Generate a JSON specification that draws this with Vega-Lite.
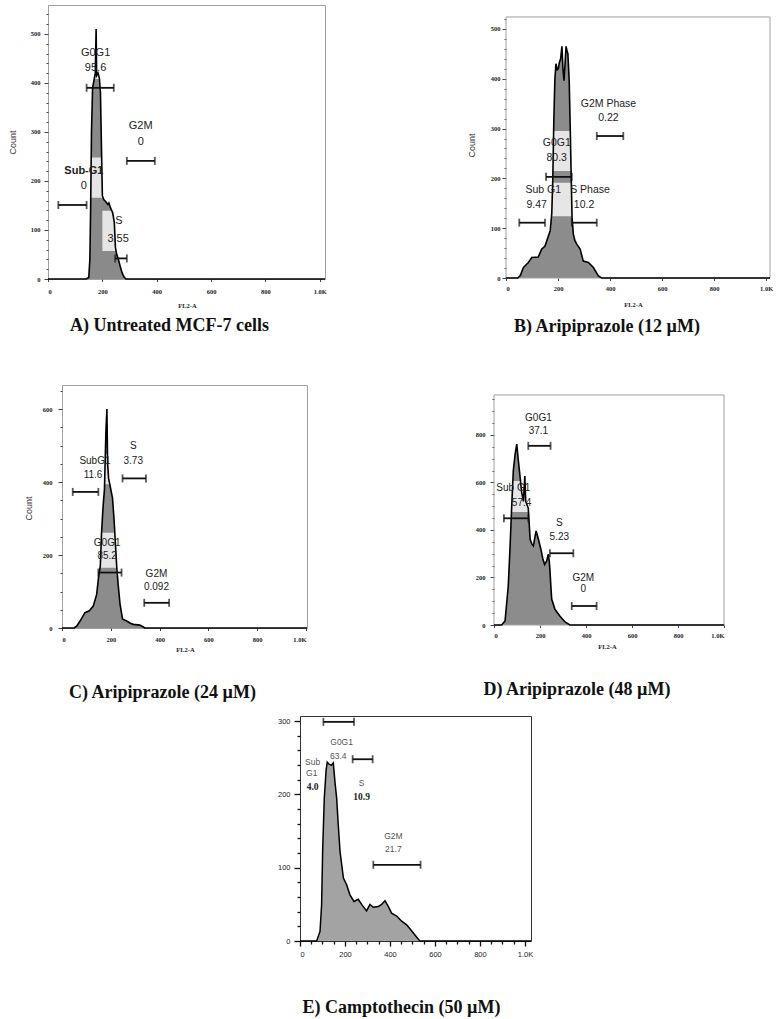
{
 "$schema": "https://vega.github.io/schema/vega-lite/v6.json",
 "padding": {"left": 0, "top": 4, "right": 6, "bottom": 6},
 "spacing": 0,
 "background": "white",
 "config": {
  "view": {"stroke": "#a0a0a0", "strokeWidth": 1},
  "axis": {"grid": false, "domain": false, "labelFont": "Liberation Serif", "labelFontWeight": "bold", "labelFontSize": 6.5, "labelColor": "#222", "tickColor": "#444", "tickSize": 2.5, "labelOverlap": false, "titleFont": "Liberation Sans", "titleFontWeight": "normal", "titleFontSize": 9, "titleColor": "#333"},
  "axisY": {"titleBaseline": "middle"},
  "axisX": {"titleFont": "Liberation Serif", "titleFontWeight": "bold", "titleFontSize": 6.5, "titleColor": "#222", "titleBaseline": "middle"},
  "title": {"font": "Liberation Serif", "fontSize": 18, "fontWeight": "bold", "color": "#111", "orient": "bottom", "anchor": "middle"},
  "text": {"font": "Liberation Sans", "color": "#222", "align": "center", "baseline": "middle"}
 },
 "datasets": {
  "histA": [{"x":0,"count":0},{"x":140,"count":0},{"x":150,"count":3},{"x":154,"count":40},{"x":157,"count":150},{"x":160,"count":300},{"x":164,"count":390},{"x":169,"count":405},{"x":174,"count":420},{"x":177,"count":510},{"x":179,"count":415},{"x":184,"count":420},{"x":189,"count":410},{"x":193,"count":380},{"x":197,"count":260},{"x":200,"count":170},{"x":205,"count":162},{"x":212,"count":158},{"x":220,"count":152},{"x":224,"count":155},{"x":230,"count":145},{"x":238,"count":135},{"x":244,"count":115},{"x":248,"count":65},{"x":252,"count":52},{"x":259,"count":40},{"x":266,"count":25},{"x":273,"count":12},{"x":280,"count":4},{"x":287,"count":0},{"x":1019,"count":0}],
  "gatesA": [{"x1":142,"x2":242,"y":390},{"x1":290,"x2":393,"y":241},{"x1":38,"x2":142,"y":151},{"x1":247,"x2":290,"y":42}],
  "boxesA": [{"x1":126,"x2":231,"y1":408,"y2":479},{"x1":53,"x2":212,"y1":166,"y2":248},{"x1":200,"x2":310,"y1":57,"y2":139}],
  "labelsA": [{"t":"G0G1","x":175,"y":462},{"t":"95.6","x":175,"y":431},{"t":"G2M","x":341,"y":312},{"t":"0","x":341,"y":280},{"t":"0","x":132,"y":190},{"t":"S","x":261,"y":118},{"t":"3.55","x":258,"y":82}],
  "labelsAbold": [{"t":"Sub-G1","x":132,"y":220}],
  "histB": [{"x":0,"count":0},{"x":45,"count":0},{"x":55,"count":5},{"x":67,"count":21},{"x":86,"count":31},{"x":99,"count":41},{"x":124,"count":42},{"x":137,"count":58},{"x":150,"count":64},{"x":160,"count":80},{"x":170,"count":95},{"x":176,"count":130},{"x":180,"count":200},{"x":184,"count":320},{"x":188,"count":400},{"x":192,"count":430},{"x":197,"count":418},{"x":201,"count":420},{"x":205,"count":432},{"x":210,"count":440},{"x":215,"count":465},{"x":219,"count":420},{"x":223,"count":396},{"x":227,"count":430},{"x":231,"count":465},{"x":235,"count":455},{"x":238,"count":450},{"x":243,"count":396},{"x":247,"count":300},{"x":250,"count":220},{"x":254,"count":121},{"x":259,"count":88},{"x":265,"count":75},{"x":272,"count":68},{"x":285,"count":58},{"x":297,"count":34},{"x":317,"count":31},{"x":336,"count":21},{"x":355,"count":4},{"x":368,"count":0},{"x":1015,"count":0}],
  "gatesB": [{"x1":154,"x2":253,"y":203},{"x1":51,"x2":150,"y":111},{"x1":253,"x2":349,"y":111},{"x1":349,"x2":451,"y":285}],
  "boxesB": [{"x1":131,"x2":259,"y1":215,"y2":295},{"x1":73,"x2":259,"y1":124,"y2":191},{"x1":259,"x2":387,"y1":124,"y2":191}],
  "labelsB": [{"t":"G2M Phase","x":394,"y":349},{"t":"0.22","x":394,"y":321},{"t":"G0G1","x":195,"y":270},{"t":"80.3","x":195,"y":240},{"t":"Sub G1","x":143,"y":177},{"t":"9.47","x":118,"y":147},{"t":"S Phase","x":323,"y":177},{"t":"10.2","x":300,"y":147}],
  "frameB": [{"x1":0,"x2":1015,"y1":0,"y2":524}],
  "histC": [{"x":0,"count":0},{"x":50,"count":0},{"x":60,"count":5},{"x":74,"count":19},{"x":94,"count":42},{"x":112,"count":47},{"x":128,"count":60},{"x":142,"count":92},{"x":150,"count":140},{"x":157,"count":170},{"x":162,"count":260},{"x":168,"count":330},{"x":174,"count":380},{"x":180,"count":540},{"x":184,"count":600},{"x":187,"count":450},{"x":191,"count":410},{"x":199,"count":383},{"x":207,"count":356},{"x":214,"count":290},{"x":219,"count":230},{"x":224,"count":170},{"x":230,"count":120},{"x":238,"count":65},{"x":248,"count":25},{"x":265,"count":19},{"x":280,"count":13},{"x":292,"count":10},{"x":319,"count":8},{"x":340,"count":0},{"x":1004,"count":0}],
  "gatesC": [{"x1":44,"x2":149,"y":373},{"x1":248,"x2":344,"y":410},{"x1":149,"x2":244,"y":152},{"x1":337,"x2":439,"y":69}],
  "boxesC": [{"x1":74,"x2":210,"y1":394,"y2":476},{"x1":128,"x2":251,"y1":165,"y2":261}],
  "labelsC": [{"t":"SubG1","x":135,"y":459},{"t":"11.6","x":127,"y":418},{"t":"S","x":292,"y":499},{"t":"3.73","x":292,"y":458},{"t":"G0G1","x":185,"y":234},{"t":"85.2","x":185,"y":197},{"t":"G2M","x":387,"y":149},{"t":"0.092","x":387,"y":112}],
  "histD": [{"x":0,"count":0},{"x":33,"count":0},{"x":48,"count":17},{"x":62,"count":164},{"x":70,"count":333},{"x":77,"count":500},{"x":84,"count":650},{"x":92,"count":720},{"x":99,"count":761},{"x":105,"count":700},{"x":113,"count":627},{"x":120,"count":560},{"x":128,"count":520},{"x":134,"count":627},{"x":138,"count":520},{"x":149,"count":492},{"x":157,"count":361},{"x":165,"count":340},{"x":171,"count":333},{"x":178,"count":370},{"x":183,"count":396},{"x":188,"count":380},{"x":193,"count":361},{"x":204,"count":318},{"x":212,"count":280},{"x":220,"count":255},{"x":229,"count":270},{"x":236,"count":298},{"x":240,"count":270},{"x":243,"count":234},{"x":248,"count":150},{"x":251,"count":108},{"x":265,"count":66},{"x":287,"count":37},{"x":309,"count":13},{"x":330,"count":0},{"x":1000,"count":0}],
  "gatesD": [{"x1":149,"x2":246,"y":754},{"x1":43,"x2":149,"y":449},{"x1":243,"x2":345,"y":302},{"x1":338,"x2":446,"y":80}],
  "boxesD": [{"x1":12,"x2":164,"y1":476,"y2":606}],
  "labelsD": [{"t":"G0G1","x":193,"y":873},{"t":"37.1","x":193,"y":817},{"t":"Sub G1","x":84,"y":578},{"t":"57.4","x":120,"y":515},{"t":"S","x":284,"y":431},{"t":"5.23","x":284,"y":371},{"t":"G2M","x":388,"y":199},{"t":"0","x":388,"y":150}],
  "frameD": [{"x1":0,"x2":1000,"y1":0,"y2":968}],
  "histE": [{"x":0,"count":0},{"x":74,"count":0},{"x":89,"count":13},{"x":96,"count":49},{"x":101,"count":127},{"x":108,"count":195},{"x":116,"count":233},{"x":121,"count":244},{"x":130,"count":241},{"x":140,"count":240},{"x":148,"count":243},{"x":156,"count":215},{"x":163,"count":195},{"x":170,"count":159},{"x":178,"count":122},{"x":193,"count":86},{"x":207,"count":77},{"x":222,"count":63},{"x":240,"count":54},{"x":259,"count":57},{"x":274,"count":50},{"x":296,"count":41},{"x":311,"count":50},{"x":326,"count":46},{"x":348,"count":47},{"x":363,"count":50},{"x":378,"count":55},{"x":393,"count":47},{"x":407,"count":38},{"x":430,"count":34},{"x":452,"count":27},{"x":474,"count":22},{"x":496,"count":14},{"x":519,"count":5},{"x":533,"count":0},{"x":1027,"count":0}],
  "gatesE": [{"x1":104,"x2":240,"y":299},{"x1":234,"x2":323,"y":248},{"x1":326,"x2":536,"y":104}],
  "labelsE": [{"t":"G0G1","x":185,"y":272},{"t":"63.4","x":170,"y":253},{"t":"Sub","x":56,"y":244},{"t":"G1","x":52,"y":229},{"t":"S","x":274,"y":216},{"t":"G2M","x":415,"y":143},{"t":"21.7","x":415,"y":125}],
  "labelsEbold": [{"t":"4.0","x":56,"y":210},{"t":"10.9","x":274,"y":196}],
  "blank": []
 },
 "vconcat": [
  {"hconcat": [
   {"width": 48, "height": 340, "view": {"stroke": null}, "data": {"name": "blank"}, "mark": {"type": "point", "size": 0}},
   {"width": 277, "height": 274,
    "title": {"text": "A)  Untreated MCF-7 cells", "dx": -17, "offset": 8},
    "layer": [
     {"data": {"name": "histA"}, "mark": {"type": "area", "color": "#8a8a8a"},
      "encoding": {
       "x": {"field": "x", "type": "quantitative", "scale": {"domain": [0, 1019], "nice": false, "zero": false},
             "axis": {"title": "FL2-A", "values": [0,200,400,600,800,1000], "tickCount": 200, "labelExpr": "datum.value === 1000 ? '1.0K' : datum.label", "labelOverlap": false, "labelPadding": 7, "titleX": 139, "titleY": 26}},
       "y": {"field": "count", "type": "quantitative", "scale": {"domain": [0, 559], "nice": false},
             "axis": {"title": "Count", "values": [0,20,40,60,80,100,120,140,160,180,200,220,240,260,280,300,320,340,360,380,400,420,440,460,480,500,520,540], "tickCount": 200, "labelExpr": "datum.value % 100 === 0 ? datum.label : ''", "labelOverlap": false, "tickSize": {"condition": {"test": "datum.value % 100 === 0", "value": 4}, "value": 2}, "labelPadding": 4, "titleX": -36, "titleY": 137}}}},
     {"data": {"name": "boxesA"}, "mark": {"type": "rect", "color": "white", "opacity": 0.78},
      "encoding": {"x": {"field": "x1", "type": "quantitative"}, "x2": {"field": "x2"}, "y": {"field": "y1", "type": "quantitative"}, "y2": {"field": "y2"}}},
     {"data": {"name": "histA"}, "mark": {"type": "line", "color": "black", "strokeWidth": 1.6},
      "encoding": {"x": {"field": "x", "type": "quantitative"}, "y": {"field": "count", "type": "quantitative"}}},
     {"data": {"name": "gatesA"}, "mark": {"type": "rule", "color": "#111", "strokeWidth": 1.8},
      "encoding": {"x": {"field": "x1", "type": "quantitative"}, "x2": {"field": "x2"}, "y": {"field": "y", "type": "quantitative"}}},
     {"data": {"name": "gatesA"}, "mark": {"type": "tick", "orient": "vertical", "color": "#111", "size": 8, "thickness": 1.8},
      "encoding": {"x": {"field": "x1", "type": "quantitative"}, "y": {"field": "y", "type": "quantitative"}}},
     {"data": {"name": "gatesA"}, "mark": {"type": "tick", "orient": "vertical", "color": "#111", "size": 8, "thickness": 1.8},
      "encoding": {"x": {"field": "x2", "type": "quantitative"}, "y": {"field": "y", "type": "quantitative"}}},
     {"data": {"name": "labelsA"}, "mark": {"type": "text", "fontSize": 11},
      "encoding": {"x": {"field": "x", "type": "quantitative"}, "y": {"field": "y", "type": "quantitative"}, "text": {"field": "t"}}},
     {"data": {"name": "labelsAbold"}, "mark": {"type": "text", "fontSize": 11, "fontWeight": "bold"},
      "encoding": {"x": {"field": "x", "type": "quantitative"}, "y": {"field": "y", "type": "quantitative"}, "text": {"field": "t"}}}
    ]},
   {"width": 181, "height": 1, "view": {"stroke": null}, "data": {"name": "blank"}, "mark": {"type": "point", "size": 0}},
   {"width": 264, "height": 273,
    "view": {"stroke": null},
    "title": {"text": "B) Aripiprazole (12 µM)", "dx": -31, "offset": 10},
    "layer": [
     {"data": {"name": "histB"}, "mark": {"type": "area", "color": "#8c8c8c"},
      "encoding": {
       "x": {"field": "x", "type": "quantitative", "scale": {"domain": [0, 1015], "nice": false, "zero": false},
             "axis": {"title": "FL2-A", "values": [0,200,400,600,800,1000], "tickCount": 200, "labelExpr": "datum.value === 1000 ? '1.0K' : datum.label", "labelOverlap": false, "labelPadding": 5, "titleX": 127, "titleY": 26}},
       "y": {"field": "count", "type": "quantitative", "scale": {"domain": [0, 548], "nice": false},
             "axis": {"title": "Count", "values": [0,20,40,60,80,100,120,140,160,180,200,220,240,260,280,300,320,340,360,380,400,420,440,460,480,500,520], "tickCount": 200, "labelExpr": "datum.value % 100 === 0 ? datum.label : ''", "labelOverlap": false, "tickSize": {"condition": {"test": "datum.value % 100 === 0", "value": 4}, "value": 2}, "labelPadding": 2, "titleX": -35, "titleY": 140}}}},
     {"data": {"name": "frameB"}, "mark": {"type": "rect", "filled": false, "color": "#a0a0a0", "strokeWidth": 1},
      "encoding": {"x": {"field": "x1", "type": "quantitative"}, "x2": {"field": "x2"}, "y": {"field": "y1", "type": "quantitative"}, "y2": {"field": "y2"}}},
     {"data": {"name": "boxesB"}, "mark": {"type": "rect", "color": "white", "opacity": 0.78},
      "encoding": {"x": {"field": "x1", "type": "quantitative"}, "x2": {"field": "x2"}, "y": {"field": "y1", "type": "quantitative"}, "y2": {"field": "y2"}}},
     {"data": {"name": "histB"}, "mark": {"type": "line", "color": "black", "strokeWidth": 1.6},
      "encoding": {"x": {"field": "x", "type": "quantitative"}, "y": {"field": "count", "type": "quantitative"}}},
     {"data": {"name": "gatesB"}, "mark": {"type": "rule", "color": "#111", "strokeWidth": 1.8},
      "encoding": {"x": {"field": "x1", "type": "quantitative"}, "x2": {"field": "x2"}, "y": {"field": "y", "type": "quantitative"}}},
     {"data": {"name": "gatesB"}, "mark": {"type": "tick", "orient": "vertical", "color": "#111", "size": 8, "thickness": 1.8},
      "encoding": {"x": {"field": "x1", "type": "quantitative"}, "y": {"field": "y", "type": "quantitative"}}},
     {"data": {"name": "gatesB"}, "mark": {"type": "tick", "orient": "vertical", "color": "#111", "size": 8, "thickness": 1.8},
      "encoding": {"x": {"field": "x2", "type": "quantitative"}, "y": {"field": "y", "type": "quantitative"}}},
     {"data": {"name": "labelsB"}, "mark": {"type": "text", "fontSize": 10.5},
      "encoding": {"x": {"field": "x", "type": "quantitative"}, "y": {"field": "y", "type": "quantitative"}, "text": {"field": "t"}}}
    ]}
  ], "spacing": 0, "bounds": "flush"},
  {"width": 1, "height": 39, "view": {"stroke": null}, "data": {"name": "blank"}, "mark": {"type": "point", "size": 0}},
  {"hconcat": [
   {"width": 62, "height": 325, "view": {"stroke": null}, "data": {"name": "blank"}, "mark": {"type": "point", "size": 0}},
   {"width": 245, "height": 243,
    "title": {"text": "C) Aripiprazole (24 µM)", "dx": -22, "offset": 31},
    "layer": [
     {"data": {"name": "histC"}, "mark": {"type": "area", "color": "#8c8c8c"},
      "encoding": {
       "x": {"field": "x", "type": "quantitative", "scale": {"domain": [0, 1004], "nice": false, "zero": false},
             "axis": {"title": "FL2-A", "values": [0,200,400,600,800,1000], "tickCount": 200, "labelExpr": "datum.value === 1000 ? '1.0K' : datum.label", "labelOverlap": false, "labelPadding": 6, "titleX": 123, "titleY": 21}},
       "y": {"field": "count", "type": "quantitative", "scale": {"domain": [0, 666], "nice": false},
             "axis": {"title": "Count", "values": [0,50,100,150,200,250,300,350,400,450,500,550,600,650], "tickCount": 200, "labelExpr": "datum.value % 200 === 0 ? datum.label : ''", "labelOverlap": false, "tickSize": {"condition": {"test": "datum.value % 200 === 0", "value": 4}, "value": 2}, "labelPadding": 6, "titleX": -34, "titleY": 123}}}},
     {"data": {"name": "boxesC"}, "mark": {"type": "rect", "color": "white", "opacity": 0.78},
      "encoding": {"x": {"field": "x1", "type": "quantitative"}, "x2": {"field": "x2"}, "y": {"field": "y1", "type": "quantitative"}, "y2": {"field": "y2"}}},
     {"data": {"name": "histC"}, "mark": {"type": "line", "color": "black", "strokeWidth": 1.6},
      "encoding": {"x": {"field": "x", "type": "quantitative"}, "y": {"field": "count", "type": "quantitative"}}},
     {"data": {"name": "gatesC"}, "mark": {"type": "rule", "color": "#111", "strokeWidth": 1.8},
      "encoding": {"x": {"field": "x1", "type": "quantitative"}, "x2": {"field": "x2"}, "y": {"field": "y", "type": "quantitative"}}},
     {"data": {"name": "gatesC"}, "mark": {"type": "tick", "orient": "vertical", "color": "#111", "size": 8, "thickness": 1.8},
      "encoding": {"x": {"field": "x1", "type": "quantitative"}, "y": {"field": "y", "type": "quantitative"}}},
     {"data": {"name": "gatesC"}, "mark": {"type": "tick", "orient": "vertical", "color": "#111", "size": 8, "thickness": 1.8},
      "encoding": {"x": {"field": "x2", "type": "quantitative"}, "y": {"field": "y", "type": "quantitative"}}},
     {"data": {"name": "labelsC"}, "mark": {"type": "text", "fontSize": 10},
      "encoding": {"x": {"field": "x", "type": "quantitative"}, "y": {"field": "y", "type": "quantitative"}, "text": {"field": "t"}}}
    ]},
   {"width": 187, "height": 1, "view": {"stroke": null}, "data": {"name": "blank"}, "mark": {"type": "point", "size": 0}},
   {"width": 230, "height": 240,
    "view": {"stroke": null},
    "title": {"text": "D) Aripiprazole (48 µM)", "dx": -32, "offset": 31},
    "layer": [
     {"data": {"name": "histD"}, "mark": {"type": "area", "color": "#8c8c8c"},
      "encoding": {
       "x": {"field": "x", "type": "quantitative", "scale": {"domain": [0, 1000], "nice": false, "zero": false},
             "axis": {"title": "FL2-A", "values": [0,200,400,600,800,1000], "tickCount": 200, "labelExpr": "datum.value === 1000 ? '1.0K' : datum.label", "labelOverlap": false, "labelPadding": 5, "titleX": 113, "titleY": 21}},
       "y": {"field": "count", "type": "quantitative", "scale": {"domain": [0, 1010], "nice": false},
             "axis": {"title": null, "values": [0,50,100,150,200,250,300,350,400,450,500,550,600,650,700,750,800,850,900,950], "tickCount": 200, "labelExpr": "datum.value % 200 === 0 ? datum.label : ''", "labelOverlap": false, "tickSize": {"condition": {"test": "datum.value % 200 === 0", "value": 4}, "value": 2}, "labelPadding": 5}}}},
     {"data": {"name": "frameD"}, "mark": {"type": "rect", "filled": false, "color": "#a0a0a0", "strokeWidth": 1},
      "encoding": {"x": {"field": "x1", "type": "quantitative"}, "x2": {"field": "x2"}, "y": {"field": "y1", "type": "quantitative"}, "y2": {"field": "y2"}}},
     {"data": {"name": "boxesD"}, "mark": {"type": "rect", "color": "white", "opacity": 0.78},
      "encoding": {"x": {"field": "x1", "type": "quantitative"}, "x2": {"field": "x2"}, "y": {"field": "y1", "type": "quantitative"}, "y2": {"field": "y2"}}},
     {"data": {"name": "histD"}, "mark": {"type": "line", "color": "black", "strokeWidth": 1.6},
      "encoding": {"x": {"field": "x", "type": "quantitative"}, "y": {"field": "count", "type": "quantitative"}}},
     {"data": {"name": "gatesD"}, "mark": {"type": "rule", "color": "#111", "strokeWidth": 1.8},
      "encoding": {"x": {"field": "x1", "type": "quantitative"}, "x2": {"field": "x2"}, "y": {"field": "y", "type": "quantitative"}}},
     {"data": {"name": "gatesD"}, "mark": {"type": "tick", "orient": "vertical", "color": "#111", "size": 8, "thickness": 1.8},
      "encoding": {"x": {"field": "x1", "type": "quantitative"}, "y": {"field": "y", "type": "quantitative"}}},
     {"data": {"name": "gatesD"}, "mark": {"type": "tick", "orient": "vertical", "color": "#111", "size": 8, "thickness": 1.8},
      "encoding": {"x": {"field": "x2", "type": "quantitative"}, "y": {"field": "y", "type": "quantitative"}}},
     {"data": {"name": "labelsD"}, "mark": {"type": "text", "fontSize": 10},
      "encoding": {"x": {"field": "x", "type": "quantitative"}, "y": {"field": "y", "type": "quantitative"}, "text": {"field": "t"}}}
    ]}
  ], "spacing": 0, "bounds": "flush"},
  {"width": 1, "height": 5, "view": {"stroke": null}, "data": {"name": "blank"}, "mark": {"type": "point", "size": 0}},
  {"hconcat": [
   {"width": 300, "height": 1, "view": {"stroke": null}, "data": {"name": "blank"}, "mark": {"type": "point", "size": 0}},
   {"width": 231, "height": 225,
    "view": {"stroke": "#333"},
    "title": {"text": "E) Camptothecin (50 µM)", "dx": -14, "offset": 41},
    "layer": [
     {"data": {"name": "histE"}, "mark": {"type": "area", "color": "#a3a3a3"},
      "encoding": {
       "x": {"field": "x", "type": "quantitative", "scale": {"domain": [0, 1027], "nice": false, "zero": false},
             "axis": {"title": null, "values": [0,50,100,150,200,250,300,350,400,450,500,550,600,650,700,750,800,850,900,950,1000], "tickCount": 200, "labelExpr": "datum.value % 200 === 0 ? (datum.value === 1000 ? '1.0K' : datum.label) : ''", "labelOverlap": false, "tickSize": {"condition": {"test": "datum.value % 200 === 0", "value": 5}, "value": 3}, "labelFont": "Liberation Sans", "labelFontWeight": "normal", "labelFontSize": 7.5, "tickColor": "#111", "tickWidth": 1.3, "labelPadding": 4}},
       "y": {"field": "count", "type": "quantitative", "scale": {"domain": [0, 307], "nice": false},
             "axis": {"title": null, "values": [0,20,40,60,80,100,120,140,160,180,200,220,240,260,280,300], "tickCount": 200, "labelExpr": "datum.value % 100 === 0 ? datum.label : ''", "labelOverlap": false, "tickSize": {"condition": {"test": "datum.value % 100 === 0", "value": 6}, "value": 3}, "labelFont": "Liberation Sans", "labelFontWeight": "normal", "labelFontSize": 7.5, "tickColor": "#111", "tickWidth": 1.3, "labelPadding": 4}}}},
     {"data": {"name": "histE"}, "mark": {"type": "line", "color": "black", "strokeWidth": 1.5},
      "encoding": {"x": {"field": "x", "type": "quantitative"}, "y": {"field": "count", "type": "quantitative"}}},
     {"data": {"name": "gatesE"}, "mark": {"type": "rule", "color": "#111", "strokeWidth": 1.8},
      "encoding": {"x": {"field": "x1", "type": "quantitative"}, "x2": {"field": "x2"}, "y": {"field": "y", "type": "quantitative"}}},
     {"data": {"name": "gatesE"}, "mark": {"type": "tick", "orient": "vertical", "color": "#111", "size": 8, "thickness": 1.8},
      "encoding": {"x": {"field": "x1", "type": "quantitative"}, "y": {"field": "y", "type": "quantitative"}}},
     {"data": {"name": "gatesE"}, "mark": {"type": "tick", "orient": "vertical", "color": "#111", "size": 8, "thickness": 1.8},
      "encoding": {"x": {"field": "x2", "type": "quantitative"}, "y": {"field": "y", "type": "quantitative"}}},
     {"data": {"name": "labelsE"}, "mark": {"type": "text", "fontSize": 8.5, "color": "#555"},
      "encoding": {"x": {"field": "x", "type": "quantitative"}, "y": {"field": "y", "type": "quantitative"}, "text": {"field": "t"}}},
     {"data": {"name": "labelsEbold"}, "mark": {"type": "text", "fontSize": 9.5, "font": "Liberation Serif", "fontWeight": "bold", "color": "#222"},
      "encoding": {"x": {"field": "x", "type": "quantitative"}, "y": {"field": "y", "type": "quantitative"}, "text": {"field": "t"}}}
    ]}
  ], "spacing": 0, "bounds": "flush"}
 ]
}
